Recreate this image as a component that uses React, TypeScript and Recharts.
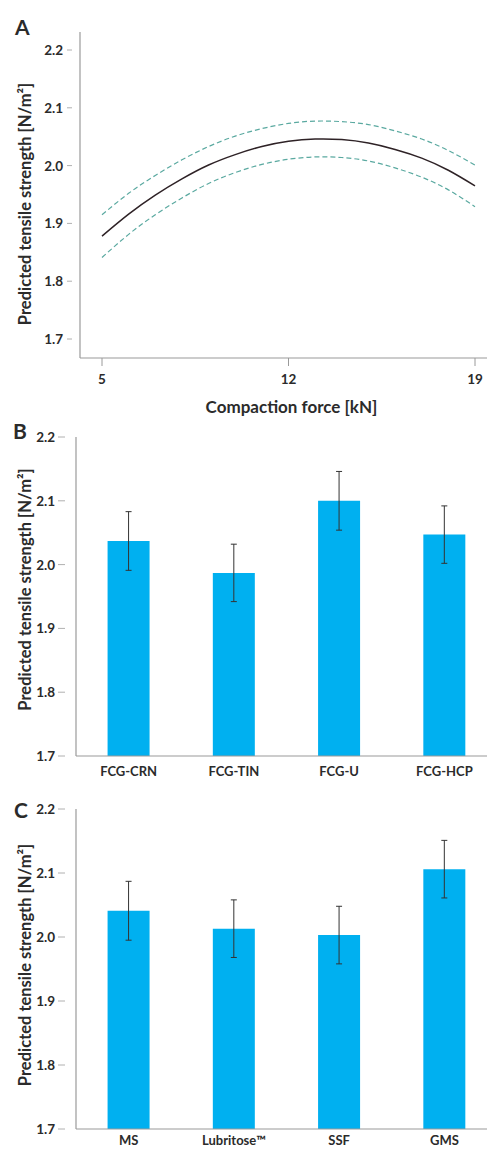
import React from 'react';
import { LineChart, Line, XAxis, YAxis, BarChart, Bar, ErrorBar, Label } from 'recharts';

// Panel A: predicted tensile strength vs compaction force, with confidence band
const forceKN = [5, 6, 7, 8, 9, 10, 11, 12, 13, 14, 15, 16, 17, 18, 19];
const predicted = [1.878, 1.916, 1.949, 1.977, 2.001, 2.019, 2.033, 2.042, 2.046, 2.045, 2.039, 2.028, 2.013, 1.992, 1.965];
const upperCI = [1.915, 1.952, 1.983, 2.010, 2.033, 2.051, 2.064, 2.073, 2.077, 2.076, 2.071, 2.060, 2.046, 2.026, 2.001];
const lowerCI = [1.841, 1.881, 1.915, 1.944, 1.969, 1.988, 2.002, 2.011, 2.015, 2.014, 2.008, 1.996, 1.980, 1.958, 1.929];
const forceTicks = [5, 12, 19];

// Panel B: filler type
const fillerCategories = ['FCG-CRN', 'FCG-TIN', 'FCG-U', 'FCG-HCP'];
const fillerMeans = [2.037, 1.987, 2.1, 2.047];
const fillerErrors = [0.046, 0.045, 0.046, 0.045];

// Panel C: lubricant type
const lubricantCategories = ['MS', 'Lubritose™', 'SSF', 'GMS'];
const lubricantMeans = [2.041, 2.013, 2.003, 2.106];
const lubricantErrors = [0.046, 0.045, 0.045, 0.045];

const strengthTicks = [1.7, 1.8, 1.9, 2.0, 2.1, 2.2];

const FONT = 'Lato, "Open Sans", sans-serif';
const TEXT = '#2b2b2b';
const FRAME = '#9a9a9a';
const BAR = '#00B0F0';
const Y_TITLE = 'Predicted tensile strength [N/m²]';

const curveData = forceKN.map((f, i) => ({ force: f, mid: predicted[i], hi: upperCI[i], lo: lowerCI[i] }));
const fillerData = fillerCategories.map((name, i) => ({ name, mean: fillerMeans[i], err: fillerErrors[i] }));
const lubricantData = lubricantCategories.map((name, i) => ({ name, mean: lubricantMeans[i], err: lubricantErrors[i] }));

const makeYTick = (dashFrom: number, dashTo: number, textEnd: number) => (props: any) => {
  const { x, y, payload } = props;
  return (
    <g>
      <line x1={x - dashFrom} x2={x - dashTo} y1={y} y2={y} stroke="#b0b0b0" strokeWidth={1} />
      <text x={x - textEnd} y={y} textAnchor="end" dominantBaseline="central" fontSize={13.5} fontWeight={700} fill={TEXT} fontFamily={FONT}>
        {Number(payload.value).toFixed(1)}
      </text>
    </g>
  );
};

const yTitle = (cx: number, shift: number) => (props: any) => {
  const vb = props.viewBox;
  const cy = vb.y + vb.height / 2 + shift;
  return (
    <text
      transform={`translate(${cx},${cy}) rotate(-90)`}
      textAnchor="middle"
      dominantBaseline="central"
      fontSize={16.5}
      fontWeight={700}
      fill={TEXT}
      fontFamily={FONT}
    >
      {Y_TITLE}
    </text>
  );
};

const xTitle = (props: any) => {
  const vb = props.viewBox;
  return (
    <text x={vb.x + vb.width / 2 + 4} y={vb.y + 48} textAnchor="middle" dominantBaseline="central" fontSize={17} fontWeight={700} fill={TEXT} fontFamily={FONT}>
      Compaction force [kN]
    </text>
  );
};

const panelLetter = (letter: string, left: number, top: number) => (
  <div style={{ position: 'absolute', left, top, fontFamily: FONT, fontWeight: 700, fontSize: 21, color: TEXT, lineHeight: 1 }}>{letter}</div>
);

const catTick = { fontSize: 13, fontWeight: 700, fill: TEXT, fontFamily: FONT };

export default function App() {
  return (
    <div style={{ position: 'absolute', left: 0, top: 0, width: 487, height: 1149, overflow: 'hidden', background: '#fff' }}>
      {panelLetter('A', 15, 16)}
      {panelLetter('B', 13, 420)}
      {panelLetter('C', 14, 799)}

      <div style={{ position: 'absolute', left: 0, top: 0 }}>
        <LineChart width={520} height={420} data={curveData} margin={{ top: 32, right: 25, left: 0, bottom: 0 }}>
          <XAxis xAxisId="frame" orientation="top" height={0} tick={false} tickLine={false} axisLine={{ stroke: FRAME, strokeWidth: 1.2 }} />
          <XAxis
            dataKey="force"
            type="number"
            domain={[5, 19]}
            ticks={forceTicks}
            padding={{ left: 22, right: 20 }}
            height={62}
            tickSize={8}
            tickMargin={8}
            axisLine={{ stroke: FRAME, strokeWidth: 1.2 }}
            tickLine={{ stroke: FRAME }}
            tick={{ fontSize: 13.5, fontWeight: 700, fill: TEXT, fontFamily: FONT }}
          >
            <Label content={xTitle} />
          </XAxis>
          <YAxis
            type="number"
            domain={[1.7, 2.2]}
            ticks={strengthTicks}
            padding={{ top: 18, bottom: 19 }}
            width={80}
            tickSize={0}
            tickMargin={0}
            axisLine={{ stroke: FRAME, strokeWidth: 1.2 }}
            tick={makeYTick(13, 8, 17)}
          >
            <Label content={yTitle(25, 9)} />
          </YAxis>
          <Line type="natural" dataKey="hi" stroke="#5aa9a0" strokeWidth={1.2} strokeDasharray="5 3" dot={false} isAnimationActive={false} />
          <Line type="natural" dataKey="lo" stroke="#5aa9a0" strokeWidth={1.2} strokeDasharray="5 3" dot={false} isAnimationActive={false} />
          <Line type="natural" dataKey="mid" stroke="#2e2226" strokeWidth={1.5} dot={false} isAnimationActive={false} />
        </LineChart>
      </div>

      <div style={{ position: 'absolute', left: 0, top: 420 }}>
        <BarChart width={520} height={370} data={fillerData} margin={{ top: 17, right: 23, left: 0, bottom: 0 }} barCategoryGap="30%">
          <XAxis xAxisId="frame" orientation="top" height={0} tick={false} tickLine={false} axisLine={{ stroke: FRAME, strokeWidth: 1.2 }} />
          <XAxis dataKey="name" height={34} tickSize={0} tickMargin={11} tickLine={false} axisLine={{ stroke: FRAME, strokeWidth: 1.2 }} tick={catTick} />
          <YAxis
            type="number"
            domain={[1.7, 2.2]}
            ticks={strengthTicks}
            allowDataOverflow
            width={76}
            tickSize={0}
            tickMargin={0}
            axisLine={{ stroke: FRAME, strokeWidth: 1.2 }}
            tick={makeYTick(18, 11, 21)}
          >
            <Label content={yTitle(25, -7)} />
          </YAxis>
          <Bar dataKey="mean" fill={BAR} isAnimationActive={false}>
            <ErrorBar dataKey="err" width={3} stroke="#333" strokeWidth={1} />
          </Bar>
        </BarChart>
      </div>

      <div style={{ position: 'absolute', left: 0, top: 790 }}>
        <BarChart width={520} height={380} data={lubricantData} margin={{ top: 19, right: 23, left: 0, bottom: 0 }} barCategoryGap="30%">
          <XAxis xAxisId="frame" orientation="top" height={0} tick={false} tickLine={false} axisLine={{ stroke: FRAME, strokeWidth: 1.2 }} />
          <XAxis dataKey="name" height={41} tickSize={0} tickMargin={7} tickLine={false} axisLine={{ stroke: FRAME, strokeWidth: 1.2 }} tick={catTick} />
          <YAxis
            type="number"
            domain={[1.7, 2.2]}
            ticks={strengthTicks}
            allowDataOverflow
            width={76}
            tickSize={0}
            tickMargin={0}
            axisLine={{ stroke: FRAME, strokeWidth: 1.2 }}
            tick={makeYTick(18, 11, 21)}
          >
            <Label content={yTitle(25, -4)} />
          </YAxis>
          <Bar dataKey="mean" fill={BAR} isAnimationActive={false}>
            <ErrorBar dataKey="err" width={3} stroke="#333" strokeWidth={1} />
          </Bar>
        </BarChart>
      </div>
    </div>
  );
}
